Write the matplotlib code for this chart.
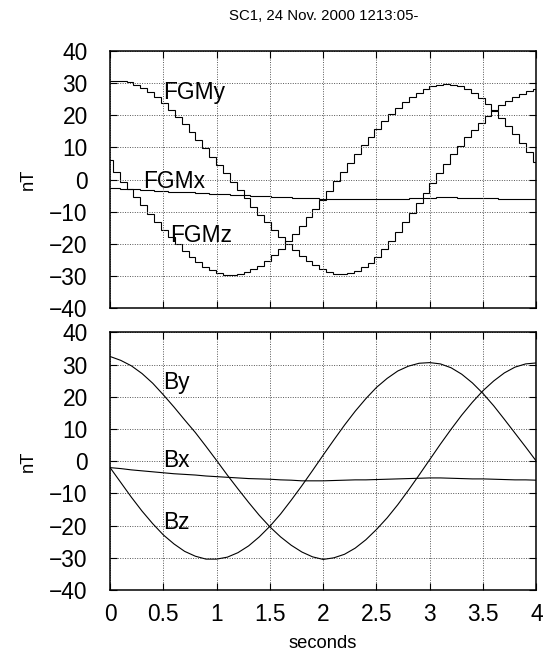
import numpy as np
import matplotlib
matplotlib.use("Agg")
import matplotlib.pyplot as plt

plt.rcParams['font.family'] = ['Liberation Sans', 'DejaVu Sans']
plt.rcParams['font.size'] = 16.4

# FGM spin-resolution samples (nT), one value per sample interval
fgm_t0 = -0.039
fgm_dt = 0.0646
fgm_x = [-2.5, -2.6, -2.8, -2.9, -3.0, -3.2, -3.3, -3.4, -3.5, -3.7,
         -3.8, -3.9, -4.0, -4.1, -4.3, -4.4, -4.5, -4.6, -4.7, -4.8,
         -4.9, -5.0, -5.1, -5.2, -5.3, -5.4, -5.5, -5.6, -5.7, -5.8,
         -5.8, -5.9, -5.9, -6.0, -6.0, -6.0, -6.1, -6.1, -6.1, -6.1,
         -6.0, -6.0, -5.9, -5.9, -5.8, -5.7, -5.6, -5.6, -5.5, -5.5,
         -5.5, -5.6, -5.6, -5.7, -5.7, -5.8, -5.8, -5.9, -5.9, -6.0,
         -6.0, -6.1, -6.1]
fgm_y = [30.6, 30.6, 30.5, 30.2, 29.4, 28.4, 27.1, 25.6, 23.7, 21.6,
         19.4, 17.1, 14.7, 12.2, 9.7, 7.1, 4.6, 2.0, -0.6, -3.2,
         -5.8, -8.4, -10.9, -13.3, -15.6, -17.8, -19.9, -21.8, -23.6, -25.2,
         -26.6, -27.7, -28.6, -29.2, -29.3, -29.0, -28.3, -27.2, -25.8, -23.9,
         -21.6, -19.0, -16.2, -13.3, -10.3, -7.2, -4.1, -1.0, 2.0, 4.9,
         7.8, 10.5, 13.1, 15.5, 17.7, 19.7, 21.5, 23.0, 24.4, 25.6,
         26.6, 27.4, 28.1]
fgm_z = [6.2, 2.2, -0.6, -2.9, -5.4, -8.0, -10.6, -13.1, -15.6, -17.9,
         -20.1, -22.2, -24.1, -25.7, -27.1, -28.2, -29.0, -29.5, -29.6, -29.4,
         -28.8, -27.9, -26.7, -25.2, -23.4, -21.4, -19.2, -16.8, -14.3, -11.7,
         -9.0, -6.2, -3.4, -0.5, 2.4, 5.2, 8.0, 10.7, 13.3, 15.8,
         18.1, 20.3, 22.3, 24.1, 25.7, 27.0, 28.1, 28.9, 29.4, 29.6,
         29.4, 28.9, 28.0, 26.8, 25.3, 23.5, 21.4, 19.1, 16.6, 14.0,
         11.3, 8.5, 5.6]

# model field (nT) every 0.1 s
b_t = np.linspace(0, 4, 41)
b_x = [-2.0, -2.3, -2.7, -3.0, -3.3, -3.6, -3.9, -4.1, -4.3, -4.6,
       -4.8, -5.0, -5.2, -5.4, -5.5, -5.6, -5.8, -5.9, -6.1, -6.1,
       -6.1, -6.0, -5.9, -5.8, -5.8, -5.7, -5.6, -5.5, -5.4, -5.3,
       -5.2, -5.2, -5.3, -5.4, -5.5, -5.5, -5.6, -5.7, -5.8, -5.8, -5.9]
b_y = [32.5, 31.3, 29.6, 27.2, 24.2, 20.6, 16.8, 12.8, 8.9, 4.6,
       0.2, -4.3, -8.6, -12.8, -16.8, -20.4, -23.5, -26.1, -28.2, -29.7,
       -30.5, -30.0, -28.9, -27.0, -24.4, -21.2, -17.6, -13.5, -9.0, -4.3,
       0.5, 5.3, 9.9, 14.3, 18.3, 21.9, 24.9, 27.4, 29.2, 30.2, 30.5]
b_z = [-2.0, -6.6, -11.2, -15.5, -19.4, -22.9, -25.7, -28.0, -29.5, -30.4,
       -30.4, -29.8, -28.4, -26.3, -23.5, -20.2, -16.4, -12.1, -7.6, -2.9,
       1.9, 6.6, 11.2, 15.5, 19.4, 22.9, 25.7, 28.0, 29.5, 30.4,
       30.6, 30.2, 29.0, 27.0, 24.3, 21.0, 17.2, 13.0, 8.7, 4.4, 0.0]

yticks = np.arange(-40, 41, 10)
xticks = [0, 0.5, 1, 1.5, 2, 2.5, 3, 3.5, 4]
xticklabels = ['0', '0.5', '1', '1.5', '2', '2.5', '3', '3.5', '4']

fig = plt.figure(figsize=(5.56, 6.64), dpi=100)
ax1 = fig.add_axes([0.198, 0.5354, 0.7666, 0.3883])
ax2 = fig.add_axes([0.198, 0.1114, 0.7666, 0.3881])

for ax in (ax1, ax2):
    ax.set_xlim(0, 4)
    ax.set_ylim(-40, 40)
    ax.set_xticks(xticks)
    ax.set_yticks(yticks)
    ax.grid(True, linestyle=(0, (1, 1.5)), linewidth=0.7, color='#555555')
    ax.tick_params(direction='in', length=5, width=0.8, top=True, right=True)
    ax.tick_params(axis='y', pad=16)
    ax.tick_params(axis='x', pad=9)
    for s in ax.spines.values():
        s.set_linewidth(1.1)
    ax.set_ylabel('nT', fontsize=13.2, labelpad=9)

edges = fgm_t0 + fgm_dt * np.arange(len(fgm_y) + 1)
for vals in (fgm_x, fgm_y, fgm_z):
    ax1.stairs(vals, edges, baseline=None, color='black', linewidth=0.8)
ax1.set_xticklabels([])
ax1.set_title('SC1, 24 Nov. 2000 1213:05-', fontsize=10.8, pad=22)

for vals in (b_x, b_y, b_z):
    ax2.plot(b_t, vals, color='black', linewidth=0.8)
ax2.set_xticklabels(xticklabels)
ax2.set_xlabel('seconds', fontsize=13.2, labelpad=7)

ax1.text(0.5, 26.9, 'FGMy', va='center', ha='left')
ax1.text(0.31, -0.5, 'FGMx', va='center', ha='left')
ax1.text(0.56, -17.2, 'FGMz', va='center', ha='left')
ax2.text(0.5, 24.5, 'By', va='center', ha='left')
ax2.text(0.5, 0.2, 'Bx', va='center', ha='left')
ax2.text(0.5, -19.1, 'Bz', va='center', ha='left')

fig.savefig('out.png', dpi=100)
